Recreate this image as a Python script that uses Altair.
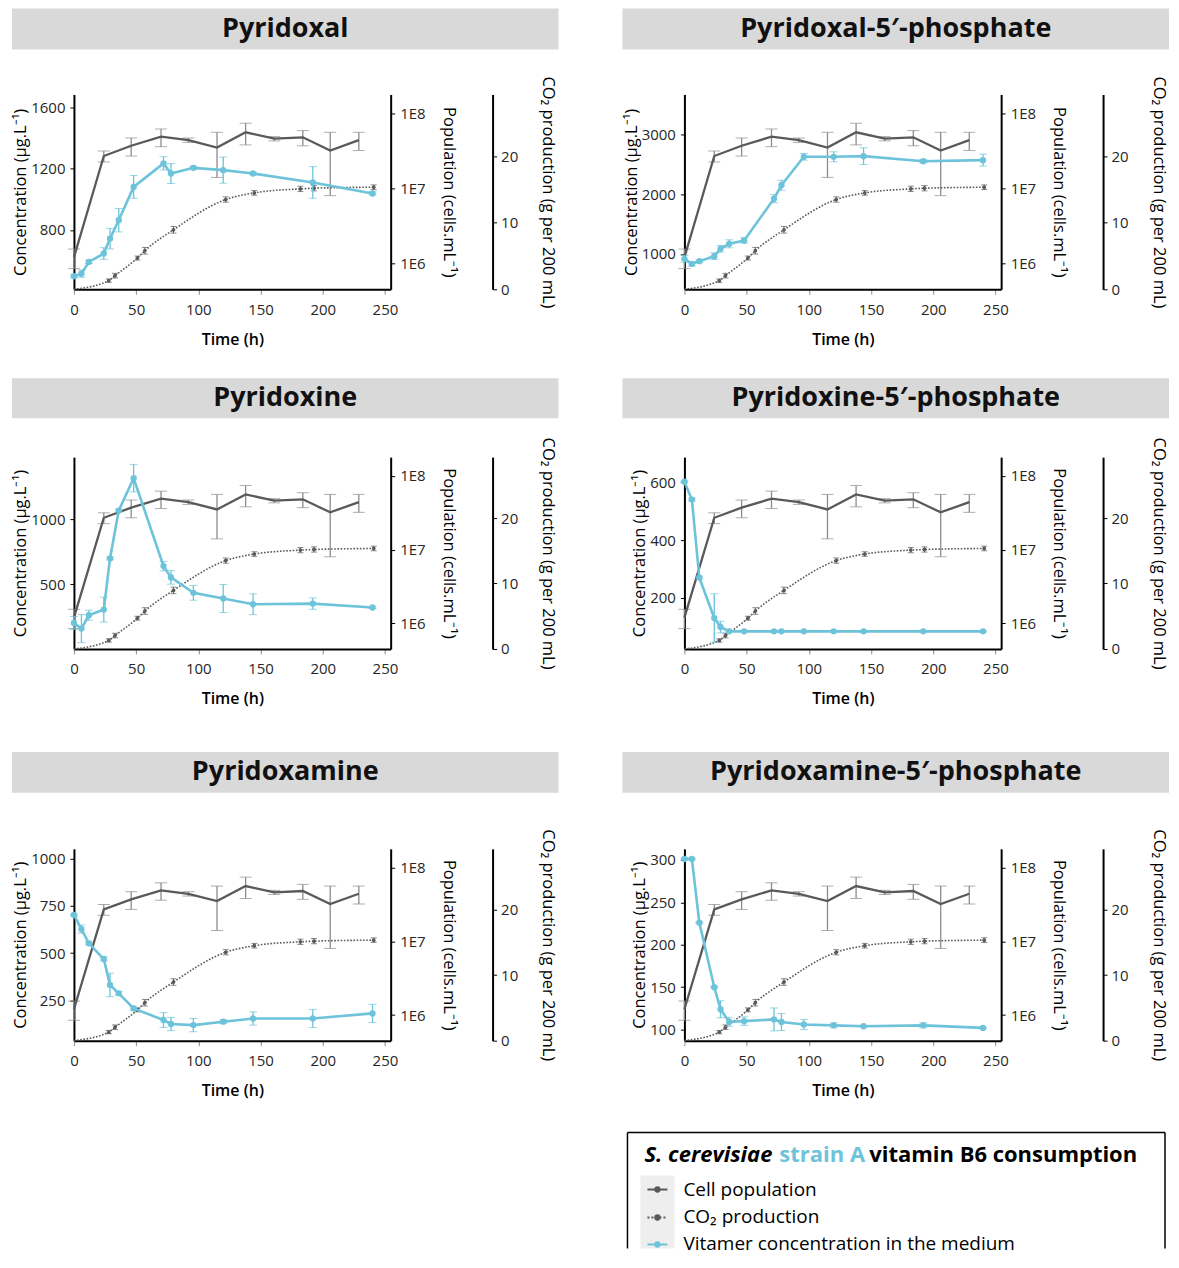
import altair as alt
import pandas as pd

FONT = "Open Sans"
BLUE = "#6cc3da"
DARK = "#595959"
ERRG = "#8c8c8c"

# ---------------- data ----------------
# cell population (cells/mL), shared by all panels
pop_time = [0, 24, 46, 70, 92, 115, 138, 161, 184, 206, 229]
pop_vals = [1.2e6, 2.7e7, 3.7e7, 4.9e7, 4.4e7, 3.5e7, 5.6e7, 4.6e7, 4.8e7, 3.2e7, 4.4e7]
pop_sd = [0.35e6, 0.45e7, 1.0e7, 1.3e7, 0.3e7, 2.1e7, 1.8e7, 0.3e7, 1.1e7, 2.4e7, 1.2e7]

# CO2 production (g per 200 mL), shared by all panels
co2_time = [0, 28, 33, 51, 57, 80, 122, 145, 182, 193, 241]
co2_vals = [0, 1.3, 2.05, 4.7, 5.8, 8.95, 13.5, 14.5, 15.1, 15.2, 15.35]
co2_sd = [0, 0.25, 0.35, 0.3, 0.5, 0.5, 0.4, 0.35, 0.4, 0.4, 0.35]

# vitamer concentration in the medium (ug/L)
vit_time = [0, 6, 12, 24, 29, 36, 48, 72, 78, 96, 120, 144, 192, 240]

pyridoxal = [498, 515, 591, 646, 743, 863, 1080, 1233, 1167, 1204, 1189, 1167, 1109, 1037]
pyridoxal_sd = [10, 24, 10, 38, 67, 76, 74, 43, 65, 11, 85, 8, 103, 10]

pyridoxal_5p = [916, 832, 877, 961, 1084, 1168, 1224, 1924, 2148, 2624, 2624, 2635, 2550, 2568]
pyridoxal_5p_sd = [56, 34, 20, 56, 56, 67, 45, 67, 84, 56, 84, 140, 28, 100]

pyridoxine = [201, 157, 260, 304, 698, 1067, 1317, 639, 552, 433, 389, 345, 350, 320]
pyridoxine_sd = [50, 108, 39, 96, 10, 10, 106, 36, 52, 57, 108, 80, 44, 8]

pyridoxine_5p = [602, 540, 270, 130, 99, 84, 84, 84, 84, 84, 84, 84, 84, 84]
pyridoxine_5p_sd = [3, 5, 5, 84, 20, 2, 2, 2, 2, 2, 2, 2, 2, 2]

pyridoxamine = [702, 627, 552, 469, 332, 288, 208, 147, 126, 120, 138, 155, 155, 182]
pyridoxamine_sd = [5, 21, 8, 10, 62, 10, 8, 39, 35, 35, 10, 35, 48, 48]

pyridoxamine_5p = [301, 301, 226, 150, 124, 109, 110, 112, 109, 106, 105, 104, 105, 102]
pyridoxamine_5p_sd = [1, 1, 1, 1, 10, 5, 5, 13.5, 10, 6, 3, 1, 3, 1]

titles = ["Pyridoxal", "Pyridoxal-5\u2032-phosphate", "Pyridoxine",
          "Pyridoxine-5\u2032-phosphate", "Pyridoxamine", "Pyridoxamine-5\u2032-phosphate"]
series = [pyridoxal, pyridoxal_5p, pyridoxine, pyridoxine_5p, pyridoxamine, pyridoxamine_5p]
series_sd = [pyridoxal_sd, pyridoxal_5p_sd, pyridoxine_sd, pyridoxine_5p_sd, pyridoxamine_sd, pyridoxamine_5p_sd]
conc_domains = [[413, 1682], [407, 3667], [0, 1479], [23, 687], [38, 1051], [87, 313]]
conc_ticks = [[800, 1200, 1600], [1000, 2000, 3000], [500, 1000], [200, 400, 600],
              [250, 500, 750, 1000], [100, 150, 200, 250, 300]]

x_ticks = [0, 50, 100, 150, 200, 250]
pop_ticks = [1e6, 1e7, 1e8]
co2_ticks = [0, 10, 20]

legend_title = ["S. cerevisiae", "strain A", "vitamin B6 consumption"]
legend_items = ["Cell population", "CO\u2082 production", "Vitamer concentration in the medium"]

# ---------------- layout constants ----------------
W = 317
HEIGHTS = [195, 192, 192]
BANDS = [(-86, -45), (-79, -39), (-97, -56)]
X_DOMAIN = [0, 254.6]
POP_DOMAIN = [4.5e5, 1.79e8]
CO2_DOMAIN = [0, 29.3]

one = pd.DataFrame({"k": [0]})

X_AXIS = alt.Axis(values=x_ticks, title="Time (h)", titleFontWeight=600, titleFontSize=16,
                  tickColor="#8c8c8c", tickSize=5, labelPadding=8, titlePadding=14, format="d")
X_SCALE = alt.Scale(domain=X_DOMAIN, nice=False, zero=False)


def xenc():
    return alt.X("t:Q", scale=X_SCALE, axis=X_AXIS)


def err_layers(df, lo, hi, scale, axis, color, cap, sw):
    base = alt.Chart(df)
    return [
        base.mark_rule(color=color, strokeWidth=sw).encode(
            x=xenc(), y=alt.Y(f"{lo}:Q", scale=scale, axis=axis), y2=f"{hi}:Q"),
        base.mark_tick(color=color, orient="horizontal", size=cap, thickness=1).encode(
            x=xenc(), y=alt.Y(f"{lo}:Q", scale=scale, axis=axis)),
        base.mark_tick(color=color, orient="horizontal", size=cap, thickness=1).encode(
            x=xenc(), y=alt.Y(f"{hi}:Q", scale=scale, axis=axis)),
    ]


def text_at(x, y, s, size, weight="normal", color="black", style="normal", align="left"):
    return alt.Chart(one).mark_text(font=FONT, fontSize=size, fontWeight=weight, color=color,
                                    fontStyle=style, align=align, baseline="middle").encode(
        x=alt.value(x), y=alt.value(y), text=alt.value(s))


def rule_at(x, x2, y, y2, color="black", sw=1.5, dash=None):
    kw = dict(color=color, strokeWidth=sw)
    if dash:
        kw["strokeDash"] = dash
    return alt.Chart(one).mark_rule(**kw).encode(
        x=alt.value(x), x2=alt.value(x2), y=alt.value(y), y2=alt.value(y2))


def legend_layers():
    top = 284
    bottom = 400
    layers = [
        rule_at(-57, 481, top, top),
        rule_at(-57, -57, top, bottom),
        rule_at(481, 481, top, bottom),
        alt.Chart(one).mark_rect(color="#eeeeee").encode(
            x=alt.value(-44), x2=alt.value(-10), y=alt.value(327), y2=alt.value(bottom)),
        text_at(-40, 306, legend_title[0], 22, "bold", "black", "italic"),
        text_at(95, 306, legend_title[1], 22, "bold", BLUE),
        text_at(185, 306, legend_title[2], 22, "bold", "black"),
    ]
    ys = [341, 369, 396]
    cols = [DARK, DARK, BLUE]
    dashes = [None, [2, 2], None]
    for y, c, d, lab in zip(ys, cols, dashes, legend_items):
        layers.append(rule_at(-37, -17, y, y, c, 2, d))
        layers.append(alt.Chart(one).mark_circle(color=c, opacity=1, size=40).encode(
            x=alt.value(-27), y=alt.value(y)))
        layers.append(text_at(-1, y, lab, 19))
    return layers


def panel(i):
    row = i // 2
    H = HEIGHTS[row]
    b0, b1 = BANDS[row]

    # population
    dfp = pd.DataFrame({"t": pop_time, "p": pop_vals, "sd": pop_sd})
    dfp["plo"] = dfp["p"] - dfp["sd"]
    dfp["phi"] = dfp["p"] + dfp["sd"]
    psc = alt.Scale(type="log", domain=POP_DOMAIN, nice=False)
    pax = alt.Axis(orient="right", values=pop_ticks,
                   labelExpr="'1E' + round(log(datum.value)/LN10)",
                   title="Population (cells.mL\u207b\u00b9)", titleFontSize=16.5,
                   titlePadding=15, labelPadding=5, tickSize=4)
    pop_group = alt.layer(
        *err_layers(dfp, "plo", "phi", psc, pax, ERRG, 12, 1.3),
        alt.Chart(dfp).mark_line(color=DARK, strokeWidth=2.3).encode(
            x=xenc(), y=alt.Y("p:Q", scale=psc, axis=pax)),
    )

    # CO2
    dfc = pd.DataFrame({"t": co2_time, "g": co2_vals, "sd": co2_sd})
    dfc["glo"] = dfc["g"] - dfc["sd"]
    dfc["ghi"] = dfc["g"] + dfc["sd"]
    csc = alt.Scale(domain=CO2_DOMAIN, nice=False, zero=False)
    cax = alt.Axis(orient="right", offset=102, values=co2_ticks, format="d",
                   title="CO\u2082 production (g per 200 mL)", titleFontSize=16.5,
                   titlePadding=22, labelPadding=4, tickSize=4)
    dfc_pts = dfc[dfc["g"] > 0]
    co2_group = alt.layer(
        *err_layers(dfc_pts, "glo", "ghi", csc, cax, DARK, 6, 1),
        alt.Chart(dfc).mark_line(color=DARK, strokeWidth=1.6, strokeDash=[1.6, 1.6],
                                 interpolate="monotone").encode(
            x=xenc(), y=alt.Y("g:Q", scale=csc, axis=cax)),
        alt.Chart(dfc_pts).mark_circle(color=DARK, opacity=1, size=14).encode(
            x=xenc(), y=alt.Y("g:Q", scale=csc, axis=cax)),
    )

    # vitamer
    dfv = pd.DataFrame({"t": vit_time, "c": series[i], "sd": series_sd[i]})
    dfv["lo"] = dfv["c"] - dfv["sd"]
    dfv["hi"] = dfv["c"] + dfv["sd"]
    vsc = alt.Scale(domain=conc_domains[i], nice=False, zero=False)
    vax = alt.Axis(orient="left", values=conc_ticks[i], format="d",
                   title="Concentration (\u00b5g.L\u207b\u00b9)", titleFontSize=16.5,
                   titlePadding=2, labelPadding=5, tickSize=4)
    vit_group = alt.layer(
        *err_layers(dfv, "lo", "hi", vsc, vax, BLUE, 8, 1.3),
        alt.Chart(dfv).mark_line(color=BLUE, strokeWidth=2.6).encode(
            x=xenc(), y=alt.Y("c:Q", scale=vsc, axis=vax)),
        alt.Chart(dfv).mark_circle(color=BLUE, opacity=1, size=40).encode(
            x=xenc(), y=alt.Y("c:Q", scale=vsc, axis=vax)),
    )

    extras = [
        alt.Chart(one).mark_rect(color="#d9d9d9").encode(
            x=alt.value(-62), x2=alt.value(485), y=alt.value(b0), y2=alt.value(b1)),
        text_at(211.5, (b0 + b1) / 2, titles[i], 27, "bold", "#111111", align="center"),
    ]
    if i == 5:
        extras += legend_layers()

    return alt.layer(pop_group, co2_group, vit_group, *extras).resolve_scale(
        y="independent").properties(width=W, height=H)


rows = [alt.hconcat(panel(2 * r), panel(2 * r + 1), spacing=64) for r in range(3)]
chart = alt.vconcat(alt.vconcat(rows[0], rows[1], spacing=31), rows[2], spacing=45).properties(
    padding={"left": 4, "top": 0, "right": 2, "bottom": 0}
).configure_view(stroke=None).configure_axis(
    labelFont=FONT, titleFont=FONT, grid=False, domainColor="black", domainWidth=2,
    labelFontSize=15, labelColor="#262626", titleFontSize=16, titleColor="black",
    titleFontWeight="normal", tickColor="black", labelFlush=False, labelOverlap=False
)

chart.save("out.html", embed_options={"renderer": "svg", "actions": False})
